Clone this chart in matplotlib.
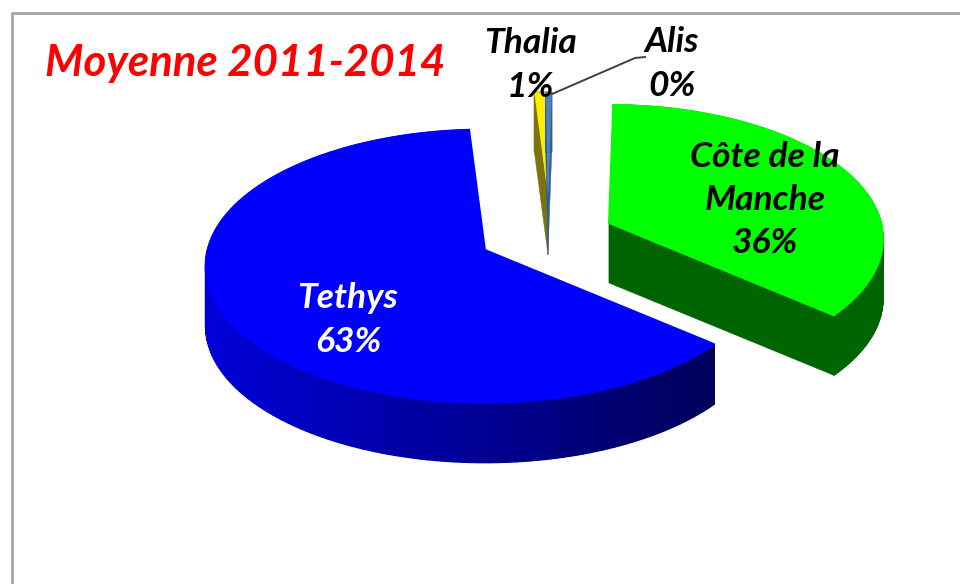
import numpy as np
import matplotlib
matplotlib.use("Agg")
import matplotlib.pyplot as plt
from matplotlib.colors import to_rgb

# --- data (clockwise from the top of the pie)
categories = ["Côte de la\nManche", "Tethys", "Thalia", "Alis"]
values = [35.9, 62.8, 0.85, 0.45]
title = "Moyenne 2011-2014"

# --- style
top_colors = ["#00ff00", "#0000ff", "#ffee00", "#4f81bd"]
cut_colors = ["#006400", "#00005e", "#7d7210", "#2f5f95"]
rim_left = ["#006400", "#0000d8", "#7d7210", "#2f5f95"]
rim_right = ["#006400", "#00005a", "#7d7210", "#2f5f95"]
centres = [(609, 223), (485, 250), (548, 195), (548, 195)]
scales = [1.0, 1.02, 0.87, 0.87]
label_pos = [(765, 200), (348, 320), (530, 65), (672, 64)]
label_colors = ["black", "white", "black", "black"]
start_angle = 1.0
A, B, K, DEPTH = 272.0, 132.0, 0.118, 60.0

plt.rcParams["font.family"] = ["Lato", "DejaVu Sans"]
fig = plt.figure(figsize=(9.6, 5.84), dpi=100, facecolor="white")
ax = fig.add_axes([0, 0, 1, 1])
ax.set_xlim(0, 960)
ax.set_ylim(584, 0)
ax.axis("off")


def project(theta_deg, centre, scale):
    t = np.radians(theta_deg)
    u, d = np.sin(t), -np.cos(t)
    s = scale / (1 - K * d)
    return centre[0] + A * u * s, centre[1] + B * d * s


shares = np.array(values) / sum(values) * 360
ends = start_angle + np.cumsum(shares)
starts = ends - shares

# chart-area frame
ax.plot([960, 12, 12], [12.5, 12.5, 584], color="#a6a6a6", lw=2, solid_joinstyle="miter")

for i in [1, 0, 2, 3]:
    c, sc = centres[i], scales[i]
    th = np.linspace(starts[i], ends[i], 181 if shares[i] > 20 else 8)
    x, y = project(th, c, sc)
    # cut faces
    for k in (0, -1):
        ax.fill([c[0], x[k], x[k], c[0]], [c[1], y[k], y[k] + DEPTH, c[1] + DEPTH],
                color=cut_colors[i], lw=0.3)
    # outer rim, shaded by horizontal position
    c0, c1 = np.array(to_rgb(rim_left[i])), np.array(to_rgb(rim_right[i]))
    xmin, xmax = x.min(), x.max()
    for j in range(len(th) - 1):
        f = (x[j] - xmin) / max(xmax - xmin, 1)
        col = c0 + (c1 - c0) * f
        ax.fill([x[j], x[j + 1], x[j + 1], x[j]],
                [y[j], y[j + 1], y[j + 1] + DEPTH, y[j] + DEPTH],
                facecolor=col, edgecolor=col, lw=1.0)
    # top face
    ax.fill(np.r_[c[0], x], np.r_[c[1], y], facecolor=top_colors[i],
            edgecolor=top_colors[i], lw=1.4 if shares[i] > 20 else 0.2)

# leader line for Alis
ax.plot([552, 635, 645], [94, 58, 57], color="#404040", lw=1.4)

# labels
for name, v, p, col in zip(categories, values, label_pos, label_colors):
    ax.text(p[0], p[1], f"{name}\n{round(v)}%", color=col, fontsize=25.5,
            fontweight="bold", fontstyle="italic", ha="center", va="center",
            linespacing=1.44)

ax.text(245, 63, title, color="#ff0000", fontsize=31.5, fontweight="bold",
        fontstyle="italic", ha="center", va="center")

fig.savefig("out.png", dpi=100, facecolor="white")
